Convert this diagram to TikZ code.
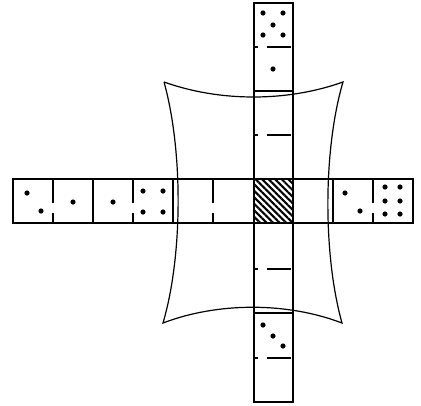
\documentclass[tikz,border=0pt]{standalone}
\usetikzlibrary{patterns.meta}
\tikzset{
  rail/.style={draw=black, line width=1.3pt},
  split/.style={draw=black, line width=1.3pt},
  cushion/.style={draw=black, line width=1.2pt},
  blocked/.style={pattern={Lines[angle=-45, distance=4.6pt, line width=2pt]}},
  pip/.style={fill=black}
}
\begin{document}
\begin{tikzpicture}[x=1pt, y=-1pt]
  \useasboundingbox (0,0) rectangle (421,405);

  % centre square
  \fill[blocked] (254,179) rectangle (293,223);

  % the two rails
  \draw[rail] (13,179) rectangle (413,223);
  \draw[rail] (254,3) rectangle (293,402);

  % full cell borders
  \foreach \x in {93,173,333}
    \draw[split] (\x,179) -- (\x,223);
  \foreach \y in {91,313}
    \draw[split] (254,\y) -- (293,\y);

  % domino middle lines, with a gap
  \foreach \x in {53,133,213,373} {
    \draw[split] (\x,179) -- (\x,203);
    \draw[split] (\x,213) -- (\x,223);
  }
  \foreach \y in {47,135,269,358} {
    \draw[split] (254,\y) -- (258,\y);
    \draw[split] (267,\y) -- (291,\y);
  }

  % pips
  \foreach \p in {(27,193),(41,211),(73,202),(113,202),
                  (143,191),(163,191),(143,212),(163,212),
                  (345,193),(360,211),
                  (385,187),(400,187),(385,201),(400,201),(385,214),(400,214),
                  (263,13),(283,13),(273,25),(263,35),(283,35),
                  (273,69),
                  (263,325),(273,336),(283,346)}
    \fill[pip] \p circle (2.6pt);

  % cushion
  \draw[cushion] (164,82)
    .. controls (220,102) and (287,102) .. (343,82)
    .. controls (323,150) and (323,255) .. (342,323)
    .. controls (287,302) and (218,302) .. (163,323)
    .. controls (183,255) and (183,150) .. (164,82);
\end{tikzpicture}
\end{document}
